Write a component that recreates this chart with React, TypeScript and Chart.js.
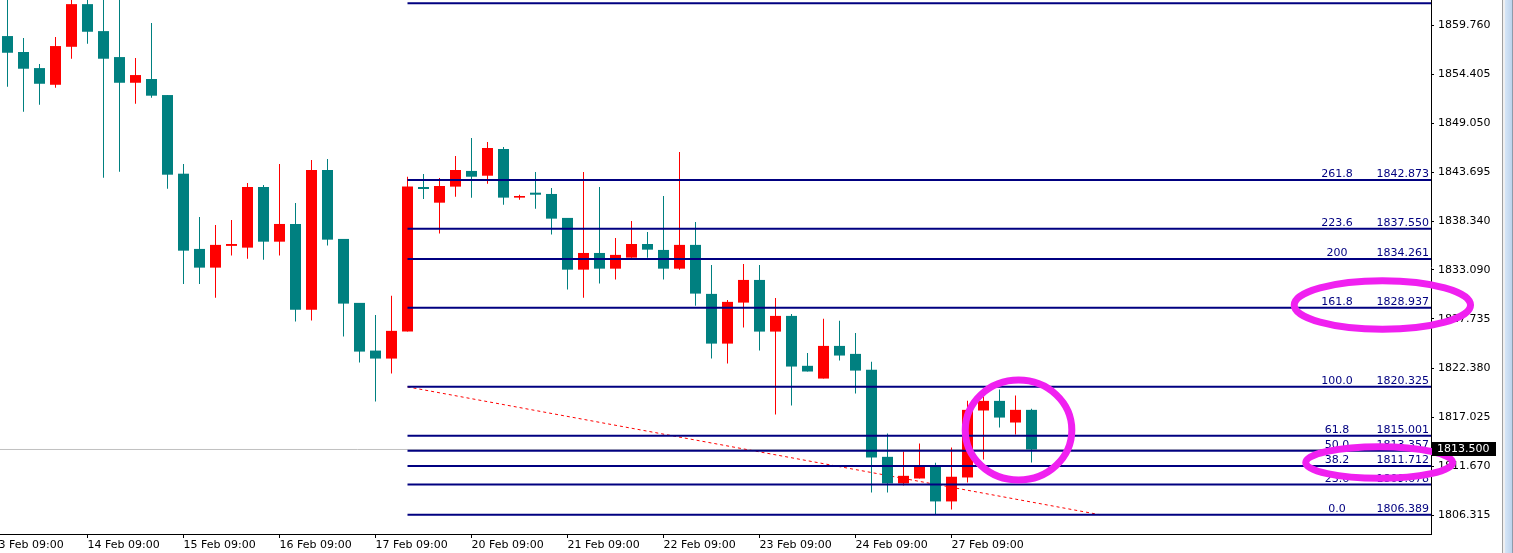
import React, { useEffect, useRef } from "react";
import { Chart, registerables } from "chart.js";

Chart.register(...registerables);

// H4 candles, index 0 = first visible candle
const opens = [
  1858.56, 1856.82, 1855.07, 1853.25, 1857.39, 1862.04, 1859.10, 1856.27, 1853.47, 1853.88,
  1852.13, 1843.56, 1835.36, 1833.32, 1835.69, 1835.50, 1842.11, 1836.15, 1838.08, 1828.72,
  1843.96, 1836.45, 1829.48, 1824.28, 1823.41, 1826.35, 1842.11, 1840.40, 1842.15, 1843.86,
  1843.34, 1846.25, 1840.95, 1841.49, 1841.35, 1838.74, 1833.10, 1834.92, 1833.21, 1834.41,
  1835.90, 1835.25, 1833.21, 1835.80, 1830.46, 1825.04, 1829.51, 1831.98, 1826.35, 1828.06,
  1822.62, 1821.23, 1824.79, 1823.92, 1822.18, 1812.70, 1809.80, 1810.34, 1811.72, 1807.84,
  1810.45, 1817.75, 1818.80, 1816.44, 1817.82,
];
const highs = [
  1863.50, 1858.34, 1855.51, 1858.45, 1863.20, 1863.00, 1864.00, 1864.00, 1856.16, 1859.98,
  1852.13, 1844.62, 1838.84, 1837.97, 1838.52, 1842.55, 1842.33, 1844.62, 1840.37, 1845.05,
  1845.16, 1836.45, 1829.48, 1828.17, 1830.27, 1843.23, 1843.53, 1843.09, 1845.49, 1847.45,
  1847.01, 1846.47, 1841.27, 1843.75, 1842.00, 1838.74, 1843.75, 1842.11, 1836.56, 1838.41,
  1837.21, 1841.13, 1845.92, 1838.30, 1833.62, 1829.80, 1833.73, 1833.62, 1830.02, 1828.28,
  1824.03, 1827.74, 1827.52, 1826.21, 1823.05, 1815.24, 1813.28, 1814.15, 1812.05, 1813.72,
  1818.80, 1819.46, 1820.03, 1819.38, 1817.93,
];
const lows = [
  1853.04, 1850.31, 1851.08, 1852.93, 1856.09, 1857.72, 1843.13, 1843.78, 1851.19, 1851.84,
  1841.93, 1831.55, 1831.55, 1830.05, 1834.63, 1834.30, 1834.19, 1834.63, 1827.44, 1827.55,
  1835.72, 1825.81, 1822.98, 1818.73, 1821.78, 1826.35, 1840.80, 1837.03, 1841.06, 1840.95,
  1842.47, 1840.18, 1840.73, 1839.75, 1836.92, 1830.93, 1830.05, 1831.58, 1832.02, 1834.41,
  1834.41, 1832.02, 1833.10, 1829.18, 1823.41, 1822.87, 1826.79, 1824.28, 1817.31, 1818.29,
  1822.00, 1821.23, 1823.19, 1819.60, 1808.82, 1808.82, 1809.58, 1810.34, 1806.39, 1806.96,
  1809.90, 1812.41, 1815.90, 1815.13, 1812.08,
];
const closes = [
  1856.74, 1855.00, 1853.36, 1857.47, 1862.04, 1859.03, 1856.09, 1853.47, 1854.31, 1852.06,
  1843.45, 1835.17, 1833.32, 1835.80, 1835.90, 1842.11, 1836.15, 1838.08, 1828.72, 1843.96,
  1836.37, 1829.40, 1824.17, 1823.41, 1826.43, 1842.15, 1841.89, 1842.22, 1843.96, 1843.23,
  1846.36, 1840.95, 1841.13, 1841.27, 1838.66, 1833.10, 1834.92, 1833.21, 1834.71, 1835.90,
  1835.28, 1833.21, 1835.80, 1830.49, 1825.04, 1829.59, 1831.98, 1826.35, 1828.06, 1822.54,
  1822.00, 1824.79, 1823.74, 1822.10, 1812.63, 1809.80, 1810.63, 1811.61, 1807.84, 1810.53,
  1817.82, 1818.80, 1816.98, 1817.82, 1813.50,
];

const xTickIndex = [-1, 5, 11, 17, 23, 29, 35, 41, 47, 53, 59];
const xTickLabels = [
  "13 Feb 09:00", "14 Feb 09:00", "15 Feb 09:00", "16 Feb 09:00", "17 Feb 09:00",
  "20 Feb 09:00", "21 Feb 09:00", "22 Feb 09:00", "23 Feb 09:00", "24 Feb 09:00", "27 Feb 09:00",
];
const yTickValues = [
  1859.76, 1854.405, 1849.05, 1843.695, 1838.34, 1833.09, 1827.735, 1822.38, 1817.025, 1811.67, 1806.315,
];

const fibLabels = ["400", "261.8", "223.6", "200", "161.8", "100.0", "61.8", "50.0", "38.2", "23.6", "0.0"];
const fibPrices = [1862.133, 1842.873, 1837.55, 1834.261, 1828.937, 1820.325, 1815.001, 1813.357, 1811.712, 1809.678, 1806.389];
const fibStartIndex = 25;

const trendFrom = { x: 25, y: 1820.325 };
const trendTo = { x: 68.29, y: 1806.389 };

const currentPrice = 1813.5;

// annotation ellipses: centre (index, price), radii (index units, price units)
const ellipseCx = [63.19, 85.93, 85.73];
const ellipseCy = [1815.62, 1829.25, 1812.08];
const ellipseRx = [3.33, 5.51, 4.59];
const ellipseRy = [5.45, 2.65, 1.72];

const X_MIN = -0.46875;
const X_MAX = X_MIN + 1431 / 16;
const Y_MAX = 1862.49;
const Y_MIN = 1804.29;

const UP = "#FF0000";
const DOWN = "#008080";
const NAVY = "#000080";
const FONT = "DejaVu Sans";

function zeroPadding(s: any) {
  s.paddingLeft = 0;
  s.paddingRight = 0;
  s.paddingTop = 0;
  s.paddingBottom = 0;
  if (s._margins) {
    s._margins.left = 0;
    s._margins.right = 0;
    s._margins.top = 0;
    s._margins.bottom = 0;
  }
}

export default function App() {
  const ref = useRef<HTMLCanvasElement>(null);

  useEffect(() => {
    const canvas = ref.current;
    if (!canvas) return;
    const colors = opens.map((o, i) => (closes[i] >= o ? UP : DOWN));

    const overlay = {
      id: "overlay",
      afterDatasetsDraw(chart: any) {
        const ctx = chart.ctx;
        const ys = chart.scales.y;
        const right = chart.chartArea.right;
        ctx.save();
        ctx.font = `11px "${FONT}"`;
        ctx.fillStyle = NAVY;
        ctx.textBaseline = "alphabetic";
        fibPrices.forEach((p, i) => {
          const y = ys.getPixelForValue(p) - 3;
          ctx.textAlign = "center";
          ctx.fillText(fibLabels[i], right - 94, y);
          ctx.textAlign = "right";
          ctx.fillText(p.toFixed(3), right - 2, y);
        });
        ctx.restore();
      },
      afterDraw(chart: any) {
        const ctx = chart.ctx;
        const xs = chart.scales.x;
        const ys = chart.scales.y;
        ctx.save();
        ctx.strokeStyle = "#F020F0";
        ctx.lineWidth = 7;
        ellipseCx.forEach((cx, i) => {
          const px = xs.getPixelForValue(cx);
          const py = ys.getPixelForValue(ellipseCy[i]);
          const rx = Math.abs(xs.getPixelForValue(cx + ellipseRx[i]) - px);
          const ry = Math.abs(ys.getPixelForValue(ellipseCy[i] + ellipseRy[i]) - py);
          ctx.beginPath();
          ctx.ellipse(px, py, rx, ry, 0, 0, Math.PI * 2);
          ctx.stroke();
        });
        // current price tag
        const cy = ys.getPixelForValue(currentPrice);
        const left = chart.chartArea.right + 1;
        ctx.fillStyle = "#000000";
        ctx.fillRect(left, Math.round(cy) - 7, 64, 14);
        ctx.fillStyle = "#FFFFFF";
        ctx.font = `11px "${FONT}"`;
        ctx.textAlign = "left";
        ctx.textBaseline = "middle";
        ctx.fillText(currentPrice.toFixed(3), left + 5, Math.round(cy));
        ctx.restore();
      },
    };

    const fibDatasets = fibPrices.map((p) => ({
      type: "line" as const,
      data: [
        { x: fibStartIndex, y: p },
        { x: X_MAX, y: p },
      ],
      borderColor: NAVY,
      borderWidth: 2,
      pointRadius: 0,
      order: 1,
    }));

    const chart = new Chart(canvas, {
      type: "bar",
      data: {
        datasets: [
          {
            type: "line",
            data: [
              { x: X_MIN, y: currentPrice },
              { x: X_MAX, y: currentPrice },
            ],
            borderColor: "#C0C0C0",
            borderWidth: 1,
            pointRadius: 0,
            order: 10,
          } as any,
          {
            type: "line",
            data: [trendFrom, trendTo],
            borderColor: "#FF0000",
            borderWidth: 1,
            borderDash: [3, 3],
            pointRadius: 0,
            order: 9,
          } as any,
          {
            type: "bar",
            data: opens.map((_, i) => ({ x: i, y: [lows[i], highs[i]] })),
            backgroundColor: colors,
            barThickness: 1,
            grouped: false,
            borderWidth: 0,
            inflateAmount: 0,
            order: 5,
          } as any,
          {
            type: "bar",
            data: opens.map((o, i) => ({ x: i, y: [o, closes[i]] })),
            backgroundColor: colors,
            barThickness: 11,
            grouped: false,
            borderWidth: 0,
            inflateAmount: 0,
            order: 4,
          } as any,
          ...(fibDatasets as any[]),
        ],
      },
      options: {
        responsive: false,
        devicePixelRatio: 1,
        animation: false,
        events: [],
        layout: { padding: 0, autoPadding: false },
        plugins: {
          legend: { display: false },
          tooltip: { enabled: false },
        },
        scales: {
          x: {
            type: "linear",
            position: "bottom",
            offset: false,
            min: X_MIN,
            max: X_MAX,
            bounds: "data",
            afterBuildTicks: (s: any) => {
              s.ticks = xTickIndex.map((v) => ({ value: v }));
            },
            afterFit: (s: any) => {
              s.height = 19;
              zeroPadding(s);
            },
            grid: {
              display: true,
              offset: false,
              drawOnChartArea: false,
              drawTicks: true,
              tickLength: 4,
              color: "#000000",
              lineWidth: 1,
            },
            border: { display: true, color: "#000000", width: 1 },
            ticks: {
              autoSkip: false,
              maxRotation: 0,
              minRotation: 0,
              align: "start",
              padding: 1,
              color: "#000000",
              font: { family: FONT, size: 11 },
              callback: (_v: any, idx: number) => xTickLabels[idx],
            },
          },
          y: {
            type: "linear",
            position: "right",
            min: Y_MIN,
            max: Y_MAX,
            bounds: "data",
            afterBuildTicks: (s: any) => {
              s.ticks = yTickValues.map((v) => ({ value: v }));
            },
            afterFit: (s: any) => {
              s.width = 82;
              zeroPadding(s);
            },
            grid: {
              display: true,
              drawOnChartArea: false,
              drawTicks: true,
              tickLength: 3,
              color: "#000000",
              lineWidth: 1,
            },
            border: { display: true, color: "#000000", width: 1 },
            ticks: {
              padding: 4,
              color: "#000000",
              font: { family: FONT, size: 11 },
              callback: (v: any) => Number(v).toFixed(3),
            },
          },
        },
      } as any,
      plugins: [overlay],
    });

    return () => chart.destroy();
  }, []);

  return (
    <div
      style={{
        position: "absolute",
        left: 0,
        top: 0,
        width: 1513,
        height: 553,
        background: "#FFFFFF",
        overflow: "hidden",
      }}
    >
      <canvas ref={ref} width={1513} height={553} style={{ display: "block", width: 1513, height: 553 }} />
      <div style={{ position: "absolute", left: 1502, top: 0, width: 1, height: 553, background: "#A0A0A0" }} />
      <div style={{ position: "absolute", left: 1503, top: 0, width: 2, height: 553, background: "#F0F0F0" }} />
      <div
        style={{
          position: "absolute",
          left: 1505,
          top: 0,
          width: 7,
          height: 553,
          background: "linear-gradient(to right, #D6E6F7, #BCD3EC)",
        }}
      />
      <div style={{ position: "absolute", left: 1512, top: 0, width: 1, height: 553, background: "#8E9BAA" }} />
    </div>
  );
}
